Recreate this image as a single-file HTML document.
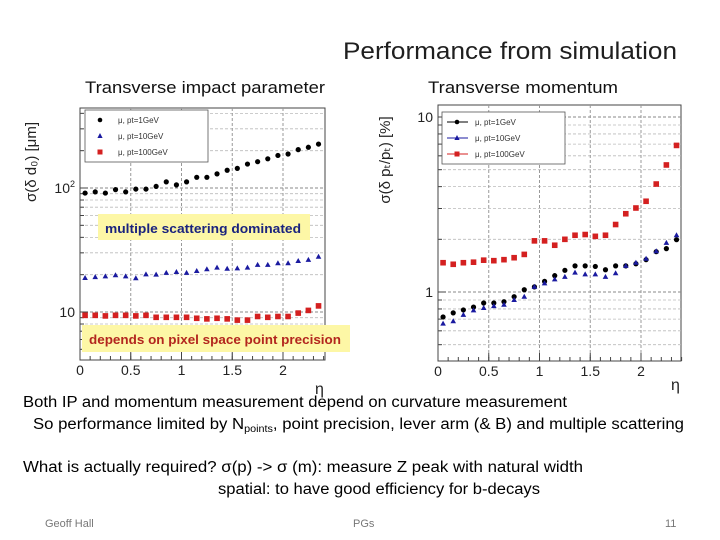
<!DOCTYPE html>
<html><head><meta charset="utf-8"><style>
html,body{margin:0;padding:0;background:#fff;}
svg{display:block;font-family:"Liberation Sans",sans-serif;}
</style></head><body>
<svg id="slide" width="720" height="540" viewBox="0 0 720 540" xmlns="http://www.w3.org/2000/svg">
<text x="343" y="59" font-size="24" fill="#1f1f1f" textLength="334" lengthAdjust="spacingAndGlyphs">Performance from simulation</text>
<text x="85" y="93" font-size="17" fill="#111" textLength="240" lengthAdjust="spacingAndGlyphs">Transverse impact parameter</text>
<text x="428" y="93" font-size="17" fill="#111" textLength="190" lengthAdjust="spacingAndGlyphs">Transverse momentum</text>
<g id="left-chart"></g>
<g id="right-chart"></g>
<g>
<rect x="98" y="214" width="212" height="26" fill="#fdf7a6"/>
<text x="105" y="233" font-size="13" font-weight="bold" fill="#1a237e" textLength="196" lengthAdjust="spacingAndGlyphs">multiple scattering dominated</text>
</g>
<g>
<rect x="82" y="325" width="268" height="27" fill="#fdf7a6"/>
<text x="89" y="344" font-size="13" font-weight="bold" fill="#b3261e" textLength="252" lengthAdjust="spacingAndGlyphs">depends on pixel space point precision</text>
</g>
<text x="23" y="407" font-size="15.5" fill="#000" textLength="544" lengthAdjust="spacingAndGlyphs">Both IP and momentum measurement depend on curvature measurement</text>
<text x="33" y="429" font-size="15.5" fill="#000" textLength="651" lengthAdjust="spacingAndGlyphs">So performance limited by N<tspan font-size="10" dy="3">points</tspan><tspan dy="-3">, point precision, lever arm (&amp; B) and multiple scattering</tspan></text>
<text x="23" y="472" font-size="15.5" fill="#000" textLength="560" lengthAdjust="spacingAndGlyphs">What is actually required?  σ(p) -&gt; σ (m):  measure Z peak with natural width</text>
<text x="218" y="494" font-size="15.5" fill="#000" textLength="322" lengthAdjust="spacingAndGlyphs">spatial: to have good efficiency for b-decays</text>
<text x="45" y="527" font-size="11" fill="#777">Geoff Hall</text>
<text x="353" y="527" font-size="11" fill="#777">PGs</text>
<text x="665" y="527" font-size="11" fill="#777">11</text>
</svg>
<script>
const etaBins = [0.05,0.15,0.25,0.35,0.45,0.55,0.65,0.75,0.85,0.95,1.05,1.15,1.25,1.35,1.45,1.55,1.65,1.75,1.85,1.95,2.05,2.15,2.25,2.35];
const ipPt1 = [91,93,91,97,93,98,98,103,112,106,112,122,122,130,139,144,156,163,172,183,188,204,213,226];
const ipPt10 = [18.8,19.1,19.4,19.8,19.4,18.7,20.1,20.0,20.7,21.0,20.7,21.4,22.1,22.8,22.3,22.5,22.8,24.0,24.0,24.7,24.7,25.8,26.3,27.9];
const ipPt100 = [9.4,9.4,9.3,9.4,9.4,9.3,9.4,9.06,9.06,9.06,9.06,8.9,8.8,8.9,8.8,8.6,8.6,9.2,9.06,9.2,9.2,9.8,10.3,11.2];
const ptPt1 = [0.72,0.76,0.79,0.82,0.865,0.865,0.88,0.94,1.03,1.07,1.15,1.24,1.33,1.41,1.41,1.40,1.34,1.41,1.41,1.45,1.53,1.70,1.77,1.99];
const ptPt10 = [0.66,0.68,0.74,0.785,0.81,0.83,0.845,0.90,0.94,1.07,1.12,1.18,1.22,1.29,1.26,1.26,1.22,1.28,1.41,1.47,1.55,1.71,1.91,2.11];
const ptPt100 = [1.47,1.44,1.47,1.48,1.52,1.51,1.53,1.57,1.64,1.96,1.96,1.85,2.0,2.11,2.13,2.08,2.11,2.43,2.80,3.02,3.30,4.14,5.32,6.88];
const xTicks = [0,0.5,1,1.5,2];
const xTickLabels = ["0","0.5","1","1.5","2"];
const legendLabels = ["μ, pt=1GeV","μ, pt=10GeV","μ, pt=100GeV"];
const NS="http://www.w3.org/2000/svg";
function mk(tag, attrs, parent){const e=document.createElementNS(NS,tag);for(const k in attrs)e.setAttribute(k,attrs[k]);parent.appendChild(e);return e;}
function chart(g, cfg, series){
  const xs=v=>cfg.x0+(v)*cfg.ux;
  const ys=v=>cfg.yRef-(Math.log10(v)-cfg.logRef)*cfg.dec;
  mk('rect',{x:cfg.x0,y:cfg.top,width:cfg.right-cfg.x0,height:cfg.bottom-cfg.top,fill:'#fff',stroke:'#444','stroke-width':1},g);
  // grid
  for(let d=cfg.minDec; d<=cfg.maxDec; d++){for(let m=1;m<10;m++){const v=m*Math.pow(10,d);const y=ys(v);if(y<cfg.top||y>cfg.bottom)continue;
    const l=mk('line',{x1:cfg.x0,x2:cfg.right,y1:y,y2:y,stroke:m==1?'#888':'#bbb','stroke-dasharray':'3,2','stroke-width':m==1?1:0.8},g);
    
    mk('line',{x1:cfg.x0,x2:cfg.x0+(m==1?8:4),y1:y,y2:y,stroke:'#444'},g);}}
  xTicks.forEach((t,i)=>{const x=xs(t);
    if(t>0){const l=mk('line',{x1:x,x2:x,y1:cfg.top,y2:cfg.bottom,stroke:'#999','stroke-dasharray':'3,2'},g);
      }
    mk('line',{x1:x,x2:x,y1:cfg.bottom,y2:cfg.bottom-8,stroke:'#444'},g);
    const tx=mk('text',{x:x,y:cfg.bottom+15,'font-size':14,'text-anchor':'middle',fill:'#222'},g);tx.textContent=xTickLabels[i];
    
  });
  for(let t=0.1;t<2.45;t+=0.1){const x=xs(t);mk('line',{x1:x,x2:x,y1:cfg.bottom,y2:cfg.bottom-4,stroke:'#444'},g);}
  cfg.yLabels.forEach(([v,lab,sup])=>{const tx=mk('text',{x:cfg.x0-5,y:ys(v)+5,'font-size':14,'text-anchor':'end',fill:'#222'},g);
    tx.textContent=lab; if(sup){const s=mk('tspan',{'font-size':9,dy:-6},tx);s.textContent=sup;}
    });
  const eta=mk('text',{x:cfg.etaX,y:cfg.etaY,'font-size':16,fill:'#222'},g);eta.textContent='η';
  
  const yt=mk('text',{x:0,y:0,'font-size':15,fill:'#222','text-anchor':'middle',transform:`translate(${cfg.ytX},${cfg.ytY}) rotate(-90)`},g);
  yt.textContent=cfg.yTitle;
  
  // series
  const colors=['#000','#1a1aa0','#d42020'];const shapes=['circle','tri','square'];
  series.forEach((vals,si)=>{vals.forEach((v,i)=>{const x=xs(etaBins[i]),y=ys(v);let e;
    if(shapes[si]=='circle')e=mk('circle',{cx:x,cy:y,r:2.6,fill:colors[si]},g);
    else if(shapes[si]=='tri')e=mk('polygon',{points:`${x},${y-3} ${x-2.8},${y+2} ${x+2.8},${y+2}`,fill:colors[si]},g);
    else e=mk('rect',{x:x-2.8,y:y-2.8,width:5.6,height:5.6,fill:colors[si]},g);
    
    });});
  // legend
  const lg=mk('g',{},g);
  
  mk('rect',{x:cfg.lx,y:cfg.ly,width:123,height:52,fill:'#fff',stroke:'#555','stroke-width':0.8},lg);
  legendLabels.forEach((lab,i)=>{const y=cfg.ly+10+i*16;
    if(cfg.legendLines)mk('line',{x1:cfg.lx+5,x2:cfg.lx+26,y1:y,y2:y,stroke:colors[i],'stroke-width':1},lg);
    const x=cfg.lx+15;
    if(i==0)mk('circle',{cx:x,cy:y,r:2.3,fill:colors[0]},lg);
    else if(i==1)mk('polygon',{points:`${x},${y-3} ${x-2.6},${y+2} ${x+2.6},${y+2}`,fill:colors[1]},lg);
    else mk('rect',{x:x-2.5,y:y-2.5,width:5,height:5,fill:colors[2]},lg);
    const t=mk('text',{x:cfg.lx+33,y:y+3,'font-size':8,fill:'#333'},lg);t.textContent=lab;
    });
}
chart(document.getElementById('left-chart'),{x0:80,right:325,top:108,bottom:360,ux:101.5,yRef:188,logRef:2,dec:124,minDec:0,maxDec:2,
  yLabels:[[100,'10','2'],[10,'10']],etaX:315,etaY:394,ytX:36,ytY:162,yTitle:'σ(δ d₀) [μm]',lx:85,ly:110,legendLines:false},[ipPt1,ipPt10,ipPt100]);
chart(document.getElementById('right-chart'),{x0:438,right:681,top:105,bottom:361,ux:101.5,yRef:292,logRef:0,dec:175,minDec:-1,maxDec:1,
  yLabels:[[10,'10'],[1,'1']],etaX:671,etaY:390,ytX:390,ytY:160,yTitle:'σ(δ pₜ/pₜ) [%]',lx:442,ly:112,legendLines:true},[ptPt1,ptPt10,ptPt100]);
</script>
</body></html>
